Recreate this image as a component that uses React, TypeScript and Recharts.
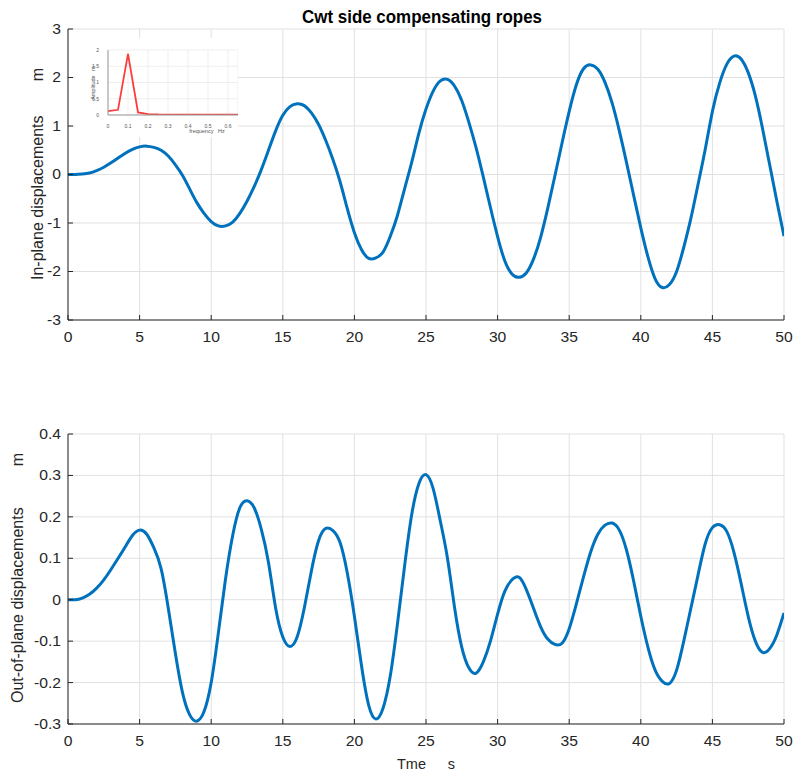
import React from 'react';
import { LineChart, Line, XAxis, YAxis, CartesianGrid } from 'recharts';

// ---------- data ----------
const timeS = [
  0, 0.5, 1, 1.5, 2, 2.5, 3, 3.5, 4, 4.5,
  5, 5.5, 6, 6.5, 7, 7.5, 8, 8.5, 9, 9.5,
  10, 10.5, 11, 11.5, 12, 12.5, 13, 13.5, 14, 14.5,
  15, 15.5, 16, 16.5, 17, 17.5, 18, 18.5, 19, 19.5,
  20, 20.5, 21, 21.5, 22, 22.5, 23, 23.5, 24, 24.5,
  25, 25.5, 26, 26.5, 27, 27.5, 28, 28.5, 29, 29.5,
  30, 30.5, 31, 31.5, 32, 32.5, 33, 33.5, 34, 34.5,
  35, 35.5, 36, 36.5, 37, 37.5, 38, 38.5, 39, 39.5,
  40, 40.5, 41, 41.5, 42, 42.5, 43, 43.5, 44, 44.5,
  45, 45.5, 46, 46.5, 47, 47.5, 48, 48.5, 49, 49.5,
  50,
];

const inPlaneM = [
  0, 0, 0.01, 0.03, 0.08, 0.15, 0.24, 0.34, 0.44, 0.52,
  0.57, 0.585, 0.56, 0.5, 0.38, 0.2, -0.02, -0.3, -0.58, -0.8,
  -0.97, -1.06, -1.06, -0.98, -0.8, -0.55, -0.25, 0.1, 0.5, 0.9,
  1.22, 1.4, 1.46, 1.42, 1.27, 1.03, 0.7, 0.31, -0.15, -0.7,
  -1.2, -1.55, -1.73, -1.72, -1.6, -1.28, -0.85, -0.3, 0.25, 0.85,
  1.35, 1.72, 1.93, 1.96, 1.82, 1.52, 1.07, 0.55, -0.05, -0.68,
  -1.28, -1.78, -2.05, -2.12, -2.03, -1.75, -1.3, -0.7, -0.03, 0.65,
  1.3, 1.85, 2.18, 2.26, 2.17, 1.9, 1.47, 0.9, 0.25, -0.43,
  -1.1, -1.7, -2.15, -2.33, -2.27, -2.0, -1.5, -0.9, -0.2, 0.52,
  1.3, 1.88, 2.27, 2.44, 2.38, 2.1, 1.62, 0.95, 0.2, -0.55,
  -1.27,
];

const outPlaneM = [
  0, 0, 0.004, 0.013, 0.028, 0.048, 0.073, 0.1, 0.128, 0.155,
  0.168, 0.158, 0.125, 0.075, -0.02, -0.13, -0.225, -0.278, -0.293, -0.27,
  -0.2, -0.08, 0.05, 0.155, 0.222, 0.239, 0.222, 0.17, 0.09, -0.02,
  -0.09, -0.113, -0.09, -0.02, 0.07, 0.143, 0.172, 0.167, 0.138, 0.065,
  -0.04, -0.16, -0.255, -0.288, -0.262, -0.185, -0.06, 0.08, 0.205, 0.28,
  0.302, 0.268, 0.19, 0.1, -0.02, -0.115, -0.165, -0.177, -0.15, -0.1,
  -0.035, 0.02, 0.048, 0.054, 0.025, -0.02, -0.065, -0.095, -0.108, -0.105,
  -0.07, -0.01, 0.055, 0.115, 0.158, 0.18, 0.185, 0.168, 0.12, 0.045,
  -0.04, -0.115, -0.17, -0.197, -0.202, -0.17, -0.1, -0.02, 0.06, 0.135,
  0.174, 0.181, 0.165, 0.115, 0.04, -0.04, -0.1, -0.127, -0.118, -0.085,
  -0.032,
];

const timeTicks = [0, 5, 10, 15, 20, 25, 30, 35, 40, 45, 50];
const inPlaneTicks = [-3, -2, -1, 0, 1, 2, 3];
const outPlaneTicks = [-0.3, -0.2, -0.1, 0, 0.1, 0.2, 0.3, 0.4];

// inset spectrum
const freqHz = [0, 0.05, 0.1, 0.15, 0.2, 0.25, 0.3, 0.35, 0.4, 0.45, 0.5, 0.55, 0.6, 0.65];
const amplitudeM = [0.12, 0.16, 1.88, 0.08, 0.03, 0.015, 0.01, 0.01, 0.01, 0.01, 0.01, 0.01, 0.01, 0.01];
const freqTicks = [0, 0.1, 0.2, 0.3, 0.4, 0.5, 0.6];
const ampTicks = [0, 0.5, 1, 1.5, 2];

const titleText = 'Cwt side compensating ropes';
const yLabelTop = 'In-plane displacements';
const yLabelBottom = 'Out-of-plane displacements';
const yUnit = 'm';
const xLabel = 'Tme';
const xUnit = 's';
const insetXLabel = 'frequency   Hz';
const insetYLabel = 'Amplitude   m';

// ---------- tables ----------
const topData = timeS.map((t, i) => ({ t, v: inPlaneM[i] }));
const bottomData = timeS.map((t, i) => ({ t, v: outPlaneM[i] }));
const insetData = freqHz.map((f, i) => ({ f, a: amplitudeM[i] }));

// ---------- styles ----------
const FONT = '"Liberation Sans", Arial, Helvetica, sans-serif';
const AXIS = '#262626';
const GRID = '#e1e1e1';
const BLUE = '#0072BD';
const fmt = (v: number) => String(Math.round(v * 1000) / 1000);

function StretchTick(props: any) {
  const { x, y, payload, textAnchor, verticalAnchor } = props;
  const fs = 14;
  const dy = verticalAnchor === 'start' ? fs * 0.71 : verticalAnchor === 'middle' ? fs * 0.355 : 0;
  return (
    <g transform={`translate(${x} ${y}) scale(1.12 1)`}>
      <text x={0} y={dy} textAnchor={textAnchor} fontFamily={FONT} fontSize={fs} fill={AXIS}>
        {fmt(payload.value)}
      </text>
    </g>
  );
}

function Panel(props: {
  data: { t: number; v: number }[];
  domain: [number, number];
  yTicks: number[];
  height: number;
  marginTop: number;
  xAxisHeight: number;
}) {
  const { data, domain, yTicks, height, marginTop, xAxisHeight } = props;
  return (
    <LineChart
      width={793}
      height={height}
      data={data}
      margin={{ top: marginTop, right: 9, bottom: 0, left: 0 }}
    >
      <CartesianGrid stroke={GRID} strokeWidth={1} />
      <XAxis
        dataKey="t"
        type="number"
        domain={[0, 50]}
        ticks={timeTicks}
        interval={0}
        allowDataOverflow
        height={xAxisHeight}
        stroke={AXIS}
        tickSize={-5}
        tickMargin={17}
        tick={<StretchTick />}
      />
      <XAxis
        xAxisId="top"
        orientation="top"
        dataKey="t"
        type="number"
        domain={[0, 50]}
        ticks={timeTicks}
        interval={0}
        allowDataOverflow
        height={0}
        stroke={AXIS}
        tickSize={-5}
        tickFormatter={() => ''}
      />
      <YAxis
        type="number"
        domain={domain}
        ticks={yTicks}
        interval={0}
        allowDataOverflow
        width={68}
        stroke={AXIS}
        tickSize={-5}
        tickMargin={12}
        tick={<StretchTick />}
      />
      <YAxis
        yAxisId="right"
        orientation="right"
        type="number"
        domain={domain}
        ticks={yTicks}
        interval={0}
        allowDataOverflow
        width={0}
        stroke={AXIS}
        tickSize={-5}
        tickFormatter={() => ''}
      />
      <Line
        type="natural"
        dataKey="v"
        stroke={BLUE}
        strokeWidth={3}
        dot={false}
        activeDot={false}
        isAnimationActive={false}
      />
    </LineChart>
  );
}

function Inset() {
  const small = { fontFamily: FONT, fontSize: 5, fill: '#555' };
  return (
    <LineChart
      width={163}
      height={99}
      data={insetData}
      margin={{ top: 12, right: 0, bottom: 0, left: 0 }}
    >
      <CartesianGrid stroke="#ebebeb" strokeWidth={0.8} />
      <XAxis
        dataKey="f"
        type="number"
        domain={[0, 0.65]}
        ticks={freqTicks}
        interval={0}
        allowDataOverflow
        height={22}
        stroke="#999"
        tickLine={false}
        tickMargin={3}
        tick={small}
        tickFormatter={fmt}
      />
      <YAxis
        type="number"
        domain={[0, 2]}
        ticks={ampTicks}
        interval={0}
        allowDataOverflow
        width={33}
        stroke="#999"
        tickLine={false}
        tickMargin={3}
        tick={small}
        tickFormatter={fmt}
      />
      <Line
        type="linear"
        dataKey="a"
        stroke="#ff3b3b"
        strokeWidth={1.8}
        dot={false}
        activeDot={false}
        isAnimationActive={false}
      />
    </LineChart>
  );
}

function VText(props: { x: number; y: number; anchor: 'start' | 'end'; children: string; size?: number; fill?: string }) {
  const { x, y, anchor, children, size = 16, fill = AXIS } = props;
  return (
    <text
      x={x}
      y={y}
      textAnchor={anchor}
      transform={`rotate(-90 ${x} ${y})`}
      fontFamily={FONT}
      fontSize={size}
      fill={fill}
    >
      {children}
    </text>
  );
}

export default function App() {
  return (
    <div
      style={{
        position: 'absolute',
        left: 0,
        top: 0,
        width: 793,
        height: 776,
        background: '#ffffff',
        overflow: 'hidden',
      }}
    >
      <div style={{ position: 'absolute', left: 0, top: 0 }}>
        <Panel data={topData} domain={[-3, 3]} yTicks={inPlaneTicks} height={370} marginTop={29} xAxisHeight={50} />
      </div>
      <div style={{ position: 'absolute', left: 0, top: 400 }}>
        <Panel data={bottomData} domain={[-0.3, 0.4]} yTicks={outPlaneTicks} height={376} marginTop={34} xAxisHeight={52} />
      </div>
      <div style={{ position: 'absolute', left: 75, top: 38, width: 163, height: 99, background: '#ffffff' }}>
        <Inset />
      </div>
      <svg
        width={793}
        height={776}
        style={{ position: 'absolute', left: 0, top: 0, pointerEvents: 'none' }}
      >
        <text
          x={422}
          y={23}
          textAnchor="middle"
          fontFamily={FONT}
          fontSize={17.5}
          fontWeight="bold"
          fill="#000"
          textLength={240}
          lengthAdjust="spacingAndGlyphs"
        >
          {titleText}
        </text>
        <VText x={43} y={280} anchor="start">{yLabelTop}</VText>
        <VText x={43} y={68} anchor="end">{yUnit}</VText>
        <VText x={23} y={703} anchor="start">{yLabelBottom}</VText>
        <VText x={23} y={453} anchor="end">{yUnit}</VText>
        <text x={397} y={769} textAnchor="start" fontFamily={FONT} fontSize={14.5} fill={AXIS}>
          {xLabel}
        </text>
        <text x={455} y={769} textAnchor="end" fontFamily={FONT} fontSize={14.5} fill={AXIS}>
          {xUnit}
        </text>
        <text x={207} y={133} textAnchor="middle" fontFamily={FONT} fontSize={5.5} fill="#555" style={{ whiteSpace: 'pre' }}>
          {insetXLabel}
        </text>
        <VText x={95} y={83} anchor="start" size={5.5} fill="#555">{''}</VText>
        <text
          x={95}
          y={83}
          textAnchor="middle"
          transform="rotate(-90 95 83)"
          fontFamily={FONT}
          fontSize={5.5}
          fill="#555"
          style={{ whiteSpace: 'pre' }}
        >
          {insetYLabel}
        </text>
      </svg>
    </div>
  );
}
